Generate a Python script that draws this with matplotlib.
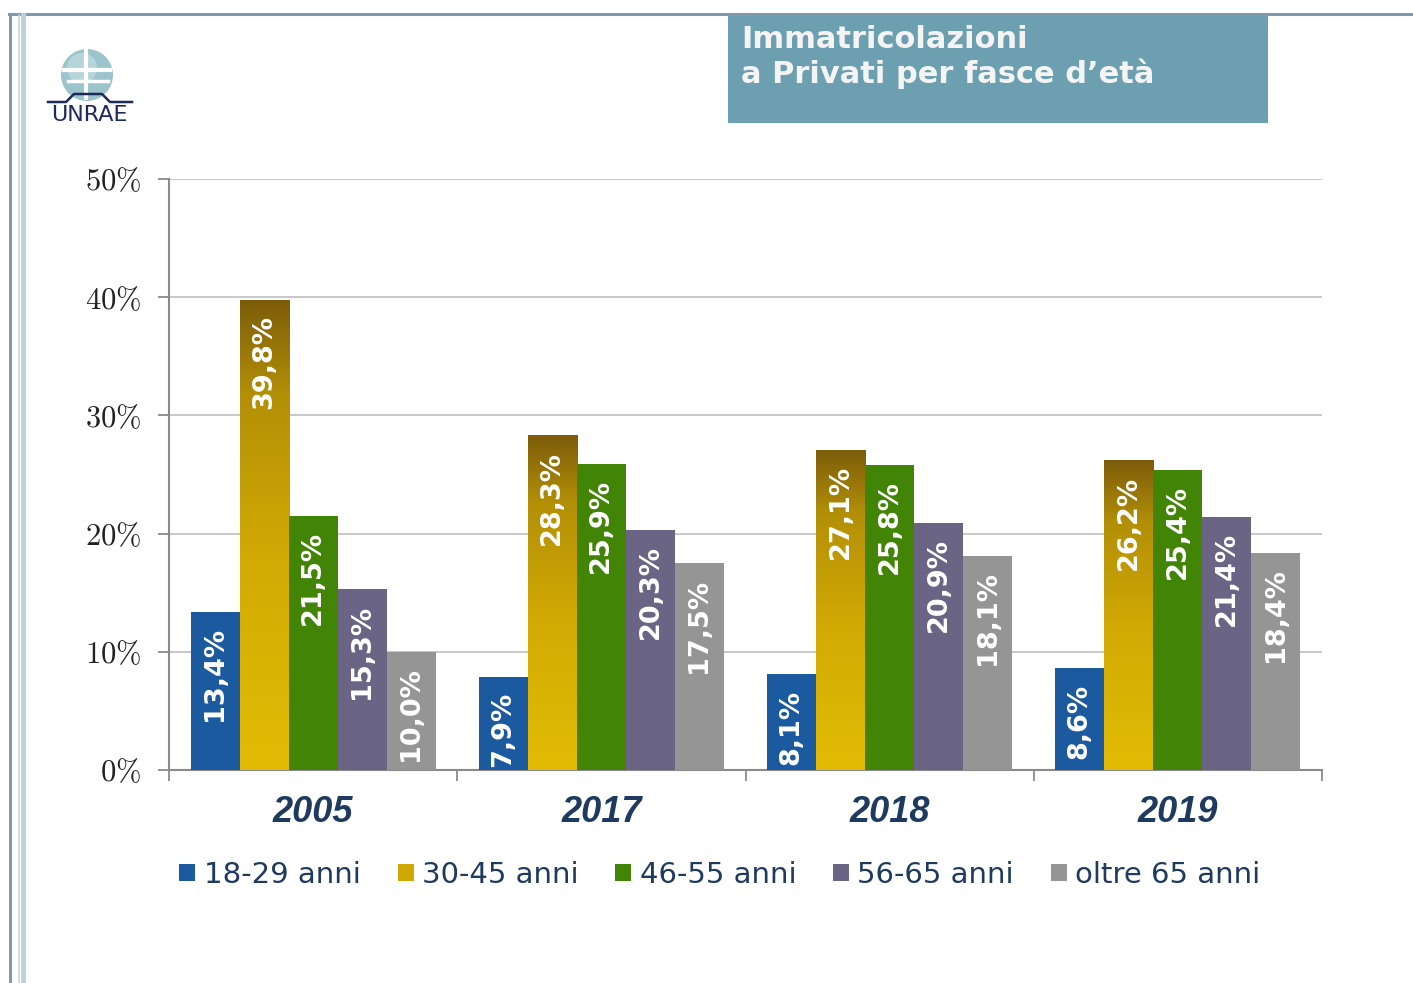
import numpy as np
import matplotlib
matplotlib.use("Agg")
import matplotlib.pyplot as plt
from matplotlib.patches import Rectangle, Circle
from matplotlib.colors import LinearSegmentedColormap
from matplotlib.lines import Line2D

# ---- data ----
years = ["2005", "2017", "2018", "2019"]
series_names = ["18-29 anni", "30-45 anni", "46-55 anni", "56-65 anni", "oltre 65 anni"]
v_18_29 = [13.4, 7.9, 8.1, 8.6]
v_30_45 = [39.8, 28.3, 27.1, 26.2]
v_46_55 = [21.5, 25.9, 25.8, 25.4]
v_56_65 = [15.3, 20.3, 20.9, 21.4]
v_over65 = [10.0, 17.5, 18.1, 18.4]
yticks = [0, 10, 20, 30, 40, 50]
title_lines = ["Immatricolazioni", "a Privati per fasce d\u2019et\u00e0"]

series = [v_18_29, v_30_45, v_46_55, v_56_65, v_over65]
colors = ["#1c5aa0", "#d0a804", "#428405", "#6a6584", "#959595"]
navy = "#1e3a5f"

plt.rcParams["mathtext.fontset"] = "cm"

W, H = 1413, 983
fig = plt.figure(figsize=(W / 100, H / 100), dpi=100)
fig.patch.set_facecolor("white")

def fx(px):
    return px / W

def fy(py):
    return 1 - py / H

# ---- frame decorations ----
fig.add_artist(Line2D([fx(9), fx(1413)], [fy(14), fy(14)], color="#7f9ab0", lw=2.2, transform=fig.transFigure))
fig.add_artist(Line2D([fx(10), fx(10)], [fy(14), fy(983)], color="#7f9ab0", lw=2.2, transform=fig.transFigure))
fig.add_artist(Line2D([fx(18.5), fx(18.5)], [fy(15), fy(983)], color="#c6d6de", lw=1.2, transform=fig.transFigure))
fig.add_artist(Line2D([fx(23), fx(23)], [fy(15), fy(983)], color="#bfd0d8", lw=3.5, transform=fig.transFigure))

# title box
fig.add_artist(Rectangle((fx(728), fy(123)), fx(1268) - fx(728), fy(15) - fy(123),
                         transform=fig.transFigure, facecolor="#6c9fb0", edgecolor="none"))
for i, line in enumerate(title_lines):
    fig.text(fx(741), fy(40 + 34 * i), line, color="#f4f4f4", fontsize=22, fontweight="bold",
             family="DejaVu Sans", va="center", ha="left")

# logo (approximation)
lax = fig.add_axes([fx(40), fy(128), fx(100), fy(40) - fy(128)])
lax.set_xlim(0, 100)
lax.set_ylim(0, 88)
lax.set_aspect("equal")
lax.axis("off")
lax.add_patch(Circle((47, 53), 26, facecolor="#9cc4cc", edgecolor="none"))
lax.add_patch(Circle((42, 60), 15, facecolor="#c2dde0", edgecolor="none", alpha=0.7))
lax.plot([24, 70], [58, 58], color="white", lw=3)
lax.plot([28, 68], [47, 47], color="white", lw=2.5)
lax.plot([46, 46], [30, 79], color="white", lw=3)
lax.plot([8, 26, 34, 62, 70, 92], [26, 26, 34, 34, 26, 26], color="#1e2a5a", lw=1.8)
lax.text(49, 13, "UNRAE", color="#1e2a5a", fontsize=16, ha="center", va="center",
         family="DejaVu Sans")

# ---- main axes ----
ax = fig.add_axes([fx(169), fy(770), fx(1322) - fx(169), fy(179) - fy(770)])
ax.set_xlim(-0.5, len(years) - 0.5)
ax.set_ylim(0, 50)

bw = 0.17
x = np.arange(len(years))
offsets = (np.arange(5) - 2) * bw

gold_cmap = LinearSegmentedColormap.from_list(
    "gold", [(0.0, "#e3bb05"), (0.45, "#d2aa04"), (0.8, "#b38f07"), (1.0, "#7c5c0a")])

for si, (vals, col) in enumerate(zip(series, colors)):
    bars = ax.bar(x + offsets[si], vals, width=bw, color=col, edgecolor="none", zorder=3)
    for b, v in zip(bars, vals):
        if si == 1:
            b.set_facecolor("none")
            x0 = b.get_x()
            grad = np.linspace(0, 1, 256).reshape(-1, 1)
            im = ax.imshow(grad, cmap=gold_cmap, origin="lower", aspect="auto",
                           extent=[x0, x0 + b.get_width(), 0, v], zorder=3)
            im.set_clip_path(b)
        lab = ("%.1f%%" % v).replace(".", ",")
        ax.annotate(lab, (b.get_x() + b.get_width() / 2, v), xytext=(0, -11),
                    textcoords="offset points", rotation=90, ha="center", va="top",
                    color="white", fontsize=19.5, fontweight="bold", family="DejaVu Sans",
                    zorder=5)

ax.set_xlim(-0.5, len(years) - 0.5)
ax.set_ylim(0, 50)

# grid & spines
ax.set_yticks(yticks)
ax.set_yticklabels([r"$%d\%%$" % t for t in yticks], fontsize=22, color="#222222")
ax.yaxis.grid(True, color="#c4c4c4", lw=1.3, zorder=0)
ax.set_axisbelow(True)
for s in ["top", "right"]:
    ax.spines[s].set_visible(False)
for s in ["left", "bottom"]:
    ax.spines[s].set_color("#8a8a8a")
    ax.spines[s].set_linewidth(1.5)
ax.tick_params(axis="y", length=8, width=1.3, color="#8a8a8a", pad=12)

ax.set_xticks(x)
ax.set_xticklabels(years, fontsize=26, fontweight="bold", style="italic",
                   family="Liberation Sans", color=navy)
ax.set_xticks(np.arange(len(years) + 1) - 0.5, minor=True)
ax.tick_params(axis="x", which="major", length=0, pad=18)
ax.tick_params(axis="x", which="minor", length=8, width=1.3, color="#8a8a8a")

# legend
handles = [Rectangle((0, 0), 1, 1, facecolor=c, edgecolor="none") for c in colors]
leg = fig.legend(handles, series_names, loc="center", bbox_to_anchor=(fx(720), fy(875)),
                 ncol=5, frameon=False, handlelength=0.55, handleheight=0.55,
                 handletextpad=0.28, columnspacing=1.27,
                 prop={"family": "DejaVu Sans", "size": 21})
for t in leg.get_texts():
    t.set_color(navy)

fig.savefig("out.png", dpi=100, facecolor="white")
